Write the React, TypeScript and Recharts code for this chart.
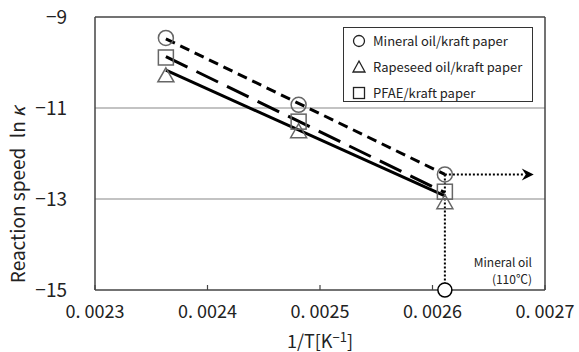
import {
  ComposedChart,
  Line,
  Scatter,
  XAxis,
  YAxis,
  ReferenceLine,
} from 'recharts';

/* ------------------------------------------------------------------ */
/*  Data                                                               */
/* ------------------------------------------------------------------ */

// 1/T for 150, 130, 110 degC
const invT = [0.002363, 0.002481, 0.002611];

const mineral = [-9.46, -10.93, -12.46];
const rapeseed = [-10.27, -11.5, -13.06];
const pfae = [-9.89, -11.3, -12.84];

// fitted lines (first and last 1/T)
const fitX = [0.002363, 0.002611];
const mineralFit = [-9.48, -12.46];
const rapeseedFit = [-10.17, -12.93];
const pfaeFit = [-9.87, -12.86];

const xTicks = [0.0023, 0.0024, 0.0025, 0.0026, 0.0027];
const xTickLabels = ['0. 0023', '0. 0024', '0. 0025', '0. 0026', '0. 0027'];
const yTicks = [-15, -13, -11, -9];
const gridY = [-13, -11];

// mineral oil at 110 degC projection
const markX = 0.002611;
const markY = -12.46;
const arrowX = 0.00269;

const seriesNames = ['Mineral oil/kraft paper', 'Rapeseed oil/kraft paper', 'PFAE/kraft paper'];

const toPts = (xs: number[], ys: number[]) => xs.map((x, i) => ({ x, y: ys[i] }));

const FONT = '"Noto Sans CJK JP", "Noto Sans", sans-serif';
const MARK = '#666';

/* ------------------------------------------------------------------ */
/*  Marker shapes                                                      */
/* ------------------------------------------------------------------ */

function CircleMark({ cx, cy }: any) {
  return <circle cx={cx} cy={cy} r={7.5} fill="none" stroke={MARK} strokeWidth={1.5} />;
}

function TriangleMark({ cx, cy }: any) {
  const h = 14;
  const w = 16;
  return (
    <polygon
      points={`${cx},${cy - h / 2} ${cx + w / 2},${cy + h / 2} ${cx - w / 2},${cy + h / 2}`}
      fill="none"
      stroke={MARK}
      strokeWidth={1.5}
    />
  );
}

function SquareMark({ cx, cy }: any) {
  return <rect x={cx - 7.5} y={cy - 7.5} width={15} height={15} fill="none" stroke={MARK} strokeWidth={1.5} />;
}

function ArrowHead({ cx, cy }: any) {
  return <path d={`M${cx - 12},${cy - 6} L${cx},${cy} L${cx - 12},${cy + 6} L${cx - 8},${cy} Z`} fill="black" />;
}

function AxisCircle({ cx, cy }: any) {
  return <circle cx={cx} cy={cy} r={7} fill="white" stroke="black" strokeWidth={1.5} />;
}

/* ------------------------------------------------------------------ */
/*  Ticks & labels                                                     */
/* ------------------------------------------------------------------ */

function XTick({ x, y, payload, index }: any) {
  return (
    <g>
      <line x1={x} y1={y} x2={x} y2={y - 5} stroke="#444" strokeWidth={1.2} />
      <text x={x} y={y + 28} textAnchor="middle" fontSize={18} fill="#222" fontFamily={FONT}>
        {xTickLabels[index] ?? payload.value}
      </text>
    </g>
  );
}

function YTick({ x, y, payload }: any) {
  return (
    <text x={x - 28} y={y + 7} textAnchor="end" fontSize={19} fill="#222" fontFamily={FONT}>
      {`\u2212${Math.abs(payload.value)}`}
    </text>
  );
}

function YLabel() {
  return (
    <text
      x={25}
      y={195}
      transform="rotate(-90, 25, 195)"
      textAnchor="middle"
      fontSize={19}
      fill="#222"
      fontFamily={FONT}
    >
      Reaction speed{'\u2002'}ln<tspan fontStyle="italic">{'\u2009\u03BA'}</tspan>
    </text>
  );
}

function XLabel() {
  return (
    <text x={320} y={348} textAnchor="middle" fontSize={18} fill="#222" fontFamily={FONT}>
      1/T[K<tspan fontSize={13} dy={-6}>{'\u2212'}1</tspan>
      <tspan dy={6}>]</tspan>
    </text>
  );
}

function LegendBox() {
  const shapes = [
    <circle cx={10} cy={0} r={5.5} fill="white" stroke="#222" strokeWidth={1.3} />,
    <polygon points="10,-6 16,5 4,5" fill="white" stroke="#222" strokeWidth={1.3} />,
    <rect x={4.5} y={-5.5} width={11} height={11} fill="white" stroke="#222" strokeWidth={1.3} />,
  ];
  return (
    <div
      style={{
        position: 'absolute',
        left: 343,
        top: 27,
        width: 190,
        height: 75,
        border: '1.5px solid #333',
        background: 'white',
        boxSizing: 'border-box',
      }}
    >
      <svg width={188} height={73} style={{ display: 'block' }}>
        {seriesNames.map((name, i) => (
          <g key={name} transform={`translate(5, ${13 + i * 26})`}>
            {shapes[i]}
            <text x={24} y={5} fontSize={13} fill="#222" fontFamily={FONT}>
              {name}
            </text>
          </g>
        ))}
      </svg>
    </div>
  );
}

/* ------------------------------------------------------------------ */
/*  Component                                                          */
/* ------------------------------------------------------------------ */

export default function App() {
  return (
    <div style={{ position: 'relative', width: 579, height: 352, background: 'white', fontFamily: FONT }}>
      <style>{`body{margin:0}`}</style>
      <ComposedChart width={579} height={352} margin={{ top: 17, right: 34, bottom: 12, left: 25 }}>
        <XAxis
          type="number"
          dataKey="x"
          domain={[0.0023, 0.0027]}
          ticks={xTicks}
          height={50}
          stroke="#444"
          strokeWidth={1.5}
          tickLine={false}
          tickSize={0}
          tickMargin={0}
          tick={<XTick />}
          interval={0}
        />
        <YAxis
          type="number"
          dataKey="y"
          domain={[-15, -9]}
          ticks={yTicks}
          width={70}
          stroke="#444"
          strokeWidth={1.5}
          tickLine={false}
          tickSize={0}
          tickMargin={0}
          tick={<YTick />}
          interval={0}
        />

        {gridY.map((v) => (
          <ReferenceLine key={v} y={v} stroke="#888" strokeWidth={1.2} />
        ))}
        <ReferenceLine y={-9} stroke="#444" strokeWidth={1.5} />
        <ReferenceLine x={0.0027} stroke="#444" strokeWidth={1.5} />

        <ReferenceLine
          segment={[
            { x: markX, y: markY },
            { x: arrowX - 0.000008, y: markY },
          ]}
          stroke="black"
          strokeWidth={2}
          strokeDasharray="2 2"
        />
        <ReferenceLine
          segment={[
            { x: markX, y: markY },
            { x: markX, y: -15 },
          ]}
          stroke="black"
          strokeWidth={2}
          strokeDasharray="2 2"
        />

        <Scatter data={toPts(invT, mineral)} shape={<CircleMark />} isAnimationActive={false} />
        <Scatter data={toPts(invT, rapeseed)} shape={<TriangleMark />} isAnimationActive={false} />
        <Scatter data={toPts(invT, pfae)} shape={<SquareMark />} isAnimationActive={false} />

        <Line
          data={toPts(fitX, mineralFit)}
          dataKey="y"
          type="linear"
          stroke="black"
          strokeWidth={3}
          strokeDasharray="10 6"
          dot={false}
          isAnimationActive={false}
        />
        <Line
          data={toPts(fitX, pfaeFit)}
          dataKey="y"
          type="linear"
          stroke="black"
          strokeWidth={3}
          strokeDasharray="24 10"
          dot={false}
          isAnimationActive={false}
        />
        <Line
          data={toPts(fitX, rapeseedFit)}
          dataKey="y"
          type="linear"
          stroke="black"
          strokeWidth={3}
          dot={false}
          isAnimationActive={false}
        />

        <Scatter data={[{ x: arrowX, y: markY }]} shape={<ArrowHead />} isAnimationActive={false} />
        <Scatter data={[{ x: markX, y: -15 }]} shape={<AxisCircle />} isAnimationActive={false} />

        <YLabel />
        <XLabel />
      </ComposedChart>

      <LegendBox />

      <div
        style={{
          position: 'absolute',
          right: 47,
          top: 253,
          fontSize: 12,
          lineHeight: '17px',
          color: '#222',
          textAlign: 'right',
        }}
      >
        <div>Mineral oil</div>
        <div>(110&#8451;)</div>
      </div>
    </div>
  );
}
